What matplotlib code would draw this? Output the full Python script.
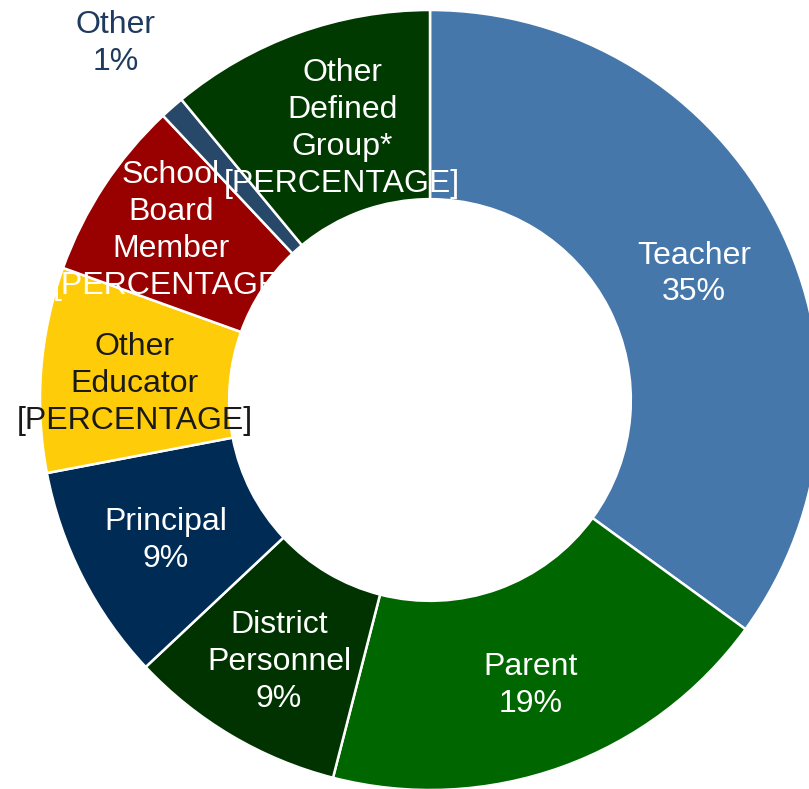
import numpy as np
import matplotlib
matplotlib.use("Agg")
import matplotlib.pyplot as plt

plt.rcParams['font.family'] = ['Liberation Sans', 'DejaVu Sans']

categories = ["Teacher", "Parent", "District\nPersonnel", "Principal", "Other\nEducator",
              "School\nBoard\nMember", "Other", "Other\nDefined\nGroup*"]
values = [35, 19, 9, 9, 8.5, 7.5, 1, 11]
value_labels = ["35%", "19%", "9%", "9%", "[PERCENTAGE]", "[PERCENTAGE]", "1%", "[PERCENTAGE]"]
colors = ["#4677AA", "#006600", "#003300", "#002B55", "#FFCC0A", "#990000", "#284869", "#003A00"]
text_colors = ["white", "white", "white", "white", "#1A1A1A", "white", "#1F3A5F", "white"]
label_radius = [0.76, 0.76, 0.76, 0.76, 0.76, 0.77, 1.22, 0.78]
label_angle_shift = [0, 0, 0, 0, 0, -3, 0, 3]  # degrees, clockwise positive
label_dy = [-0.022, -0.017, -0.018, -0.015, -0.018, 0.046, 0.0, -0.051]

W, H = 809, 789
fig = plt.figure(figsize=(W / 100, H / 100), dpi=100)
cx, cy, R = 430, 400, 390
ax = fig.add_axes([(cx - R) / W, (H - cy - R) / H, 2 * R / W, 2 * R / H])

wedges, _ = ax.pie(values, colors=colors, startangle=90, counterclock=False, radius=1.0,
                   wedgeprops=dict(width=0.485, edgecolor='white', linewidth=1.8))
ax.set_aspect('auto')
ax.set_xlim(-1, 1)
ax.set_ylim(-1, 1)
ax.axis('off')

total = sum(values)
cum = 0.0
for i, v in enumerate(values):
    mid = (cum + v / 2) / total * 360.0 + label_angle_shift[i]
    cum += v
    th = np.deg2rad(mid)
    x = label_radius[i] * np.sin(th)
    y = label_radius[i] * np.cos(th) + label_dy[i]
    ax.text(x, y, categories[i] + "\n" + value_labels[i], ha='center', va='center',
            fontsize=23, color=text_colors[i], linespacing=1.3, clip_on=False)

fig.savefig("out.png", dpi=100)
